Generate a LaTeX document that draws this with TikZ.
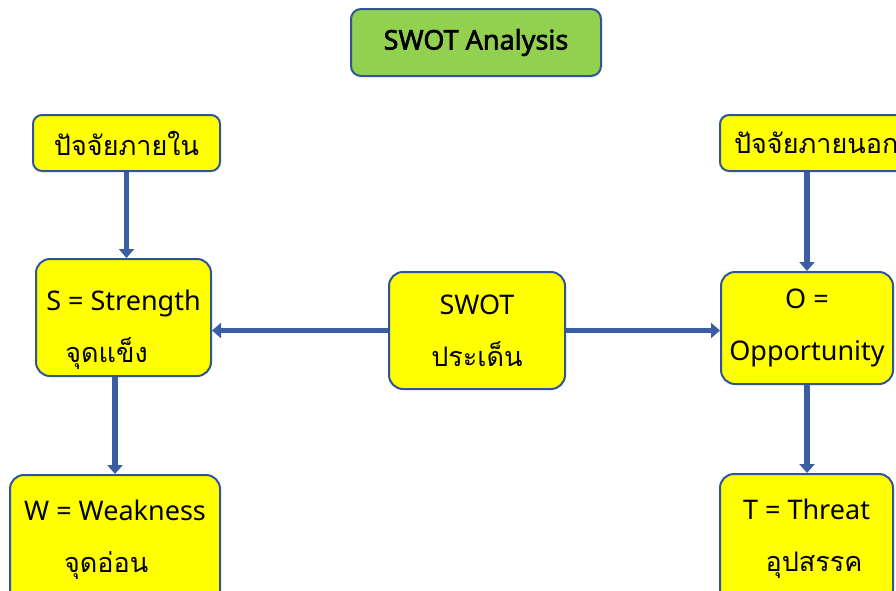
\documentclass[tikz,border=0pt]{standalone}
\usepackage{fontspec}
\setmainfont{Noto Sans}
\newfontfamily\thaifont[Script=Thai]{Loma}
\newfontfamily\titlefont[FakeBold=2.2]{Noto Sans}
\usetikzlibrary{arrows.meta, calc, positioning}

\definecolor{boxblue}{HTML}{2F5597}
\definecolor{arrblue}{HTML}{3A5DA3}
\definecolor{titlegreen}{HTML}{92D050}
\definecolor{boxyellow}{HTML}{FFFF00}

\tikzset{
  box/.style={draw=boxblue, line width=2pt, fill=boxyellow, rounded corners=14pt,
    inner sep=0pt, font=\fontsize{27}{52}\selectfont},
  smallbox/.style={box, rounded corners=9pt, minimum height=56pt},
  arr/.style={draw=arrblue, line width=5.5pt, -{Triangle[length=9pt,width=15pt]}}
}

\begin{document}
\begin{tikzpicture}[x=1pt, y=-1pt]
\useasboundingbox (0,0) rectangle (896,590);
% title
\node[box, fill=titlegreen, rounded corners=10pt, minimum width=250pt, minimum height=67pt,
  font=\fontsize{27}{30}\titlefont] (title) at (476,42.5) {SWOT Analysis};
% factors
\node[smallbox, minimum width=187pt] (inner) at (126.5,143) {\thaifont ปัจจัยภายใน};
\node[smallbox, anchor=west, inner xsep=14pt] (outer) at (719,143) {\thaifont ปัจจัยภายนอก};
% swot boxes
\node[box, minimum width=175pt, minimum height=117pt, align=left, text height=97pt] (s) at (123.5,317.5)
  {S = Strength\\\hspace*{19pt}\thaifont จุดแข็ง};
\node[box, minimum width=176pt, minimum height=117pt, align=center] (mid) at (477,330.5)
  {SWOT\\\thaifont ประเด็น};
\node[box, minimum width=172pt, minimum height=112pt, align=center] (o) at (807,328)
  {O =\\Opportunity};
\node[box, minimum width=210pt, minimum height=130pt, align=left] (w) at (115,540)
  {W = Weakness\\\hspace*{40pt}\thaifont จุดอ่อน};
\node[box, minimum width=173pt, minimum height=130pt, align=center] (t) at (806.5,539)
  {T = Threat\\\hspace*{15pt}\thaifont อุปสรรค};
% arrows
\draw[arr] (inner.south) -- (inner.south |- s.north);
\draw[arr] (s.south -| w.north) -- (w.north);
\draw[arr] (mid.west) -- (mid.west -| s.east);
\draw[arr] (mid.east) -- (mid.east -| o.west);
\draw[arr] (o.north |- outer.south) -- (o.north);
\draw[arr] (o.south) -- (o.south |- t.north);
\end{tikzpicture}
\end{document}
